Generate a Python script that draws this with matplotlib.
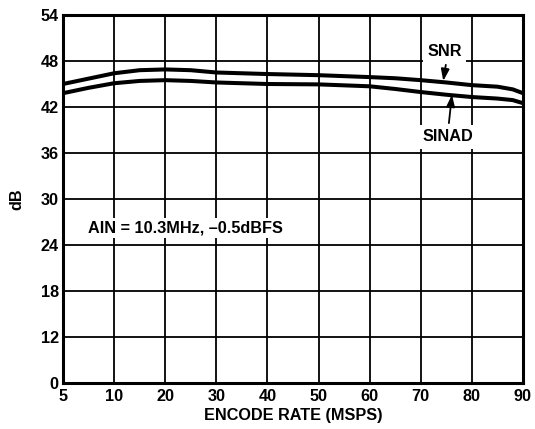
import numpy as np
import matplotlib
matplotlib.use("Agg")
import matplotlib.pyplot as plt

plt.rcParams['font.family'] = ['Liberation Sans', 'DejaVu Sans']
plt.rcParams['font.weight'] = 'bold'

# Axis tick values (piecewise-linear axes: each tick interval is one grid cell)
x_ticks = [5, 10, 20, 30, 40, 50, 60, 70, 80, 90]
y_ticks = [0, 12, 18, 24, 30, 36, 42, 48, 54]

# Data
encode_rate = [5, 7.5, 10, 15, 20, 25, 30, 40, 50, 60, 65, 70, 75, 80, 85, 88, 90]
snr = [45.0, 45.7, 46.4, 46.8, 46.9, 46.8, 46.5, 46.3, 46.15, 45.9, 45.75, 45.5, 45.2, 44.85, 44.65, 44.3, 43.8]
sinad = [43.8, 44.5, 45.1, 45.4, 45.5, 45.4, 45.2, 45.0, 44.95, 44.7, 44.35, 43.95, 43.6, 43.3, 43.1, 42.9, 42.5]

xt = np.array(x_ticks, float)
yt = np.array(y_ticks, float)
xi = np.arange(len(xt), dtype=float)
yi = np.arange(len(yt), dtype=float)

def xf(v): return np.interp(v, xt, xi)
def xinv(v): return np.interp(v, xi, xt)
def yf(v): return np.interp(v, yt, yi)
def yinv(v): return np.interp(v, yi, yt)

FS = 11.7

fig = plt.figure(figsize=(5.35, 4.29), dpi=100)
ax = fig.add_axes([63/535, 1-383/429, (523-63)/535, (383-15)/429])
ax.set_xscale('function', functions=(xf, xinv))
ax.set_yscale('function', functions=(yf, yinv))
ax.set_xlim(5, 90)
ax.set_ylim(0, 54)
ax.set_xticks(x_ticks)
ax.set_yticks(y_ticks)
ax.set_xticklabels([str(v) for v in x_ticks])
ax.set_yticklabels([str(v) for v in y_ticks])
ax.minorticks_off()
ax.tick_params(axis='x', length=0, labelsize=FS, pad=4)
ax.tick_params(axis='y', length=0, labelsize=FS, pad=3)
for lab in ax.get_xticklabels() + ax.get_yticklabels():
    lab.set_fontweight('bold')
ax.grid(True, color='black', linewidth=1.3)
ax.set_axisbelow(True)
for s in ax.spines.values():
    s.set_linewidth(2.2)

ax.plot(encode_rate, snr, color='black', linewidth=2.9, solid_capstyle='butt', zorder=3)
ax.plot(encode_rate, sinad, color='black', linewidth=2.9, solid_capstyle='butt', zorder=3)

ax.set_xlabel('ENCODE RATE (MSPS)', fontsize=FS, fontweight='bold', labelpad=3)
ax.set_ylabel('dB', fontsize=FS, fontweight='bold', labelpad=12)

ax.text(7.45, 26.2, 'AIN = 10.3MHz, \u20130.5dBFS', fontsize=FS, fontweight='bold',
        ha='left', va='center', zorder=4,
        bbox=dict(facecolor='white', edgecolor='none', pad=2))
ax.text(74.7, 49.2, 'SNR', fontsize=FS, fontweight='bold', ha='center', va='center', zorder=4,
        bbox=dict(facecolor='white', edgecolor='none', pad=3))
ax.text(75.3, 38.1, 'SINAD', fontsize=FS, fontweight='bold', ha='center', va='center', zorder=4,
        bbox=dict(facecolor='white', edgecolor='none', pad=3))
ap = dict(arrowstyle='-|>,head_length=0.7,head_width=0.25', color='black', lw=1.3,
          shrinkA=0, shrinkB=0)
ax.annotate('', xy=(74.4, 45.4), xytext=(74.9, 47.5), arrowprops=ap, zorder=5)
ax.annotate('', xy=(76.1, 43.6), xytext=(75.5, 39.9), arrowprops=ap, zorder=5)

fig.savefig('out.png', dpi=100)
